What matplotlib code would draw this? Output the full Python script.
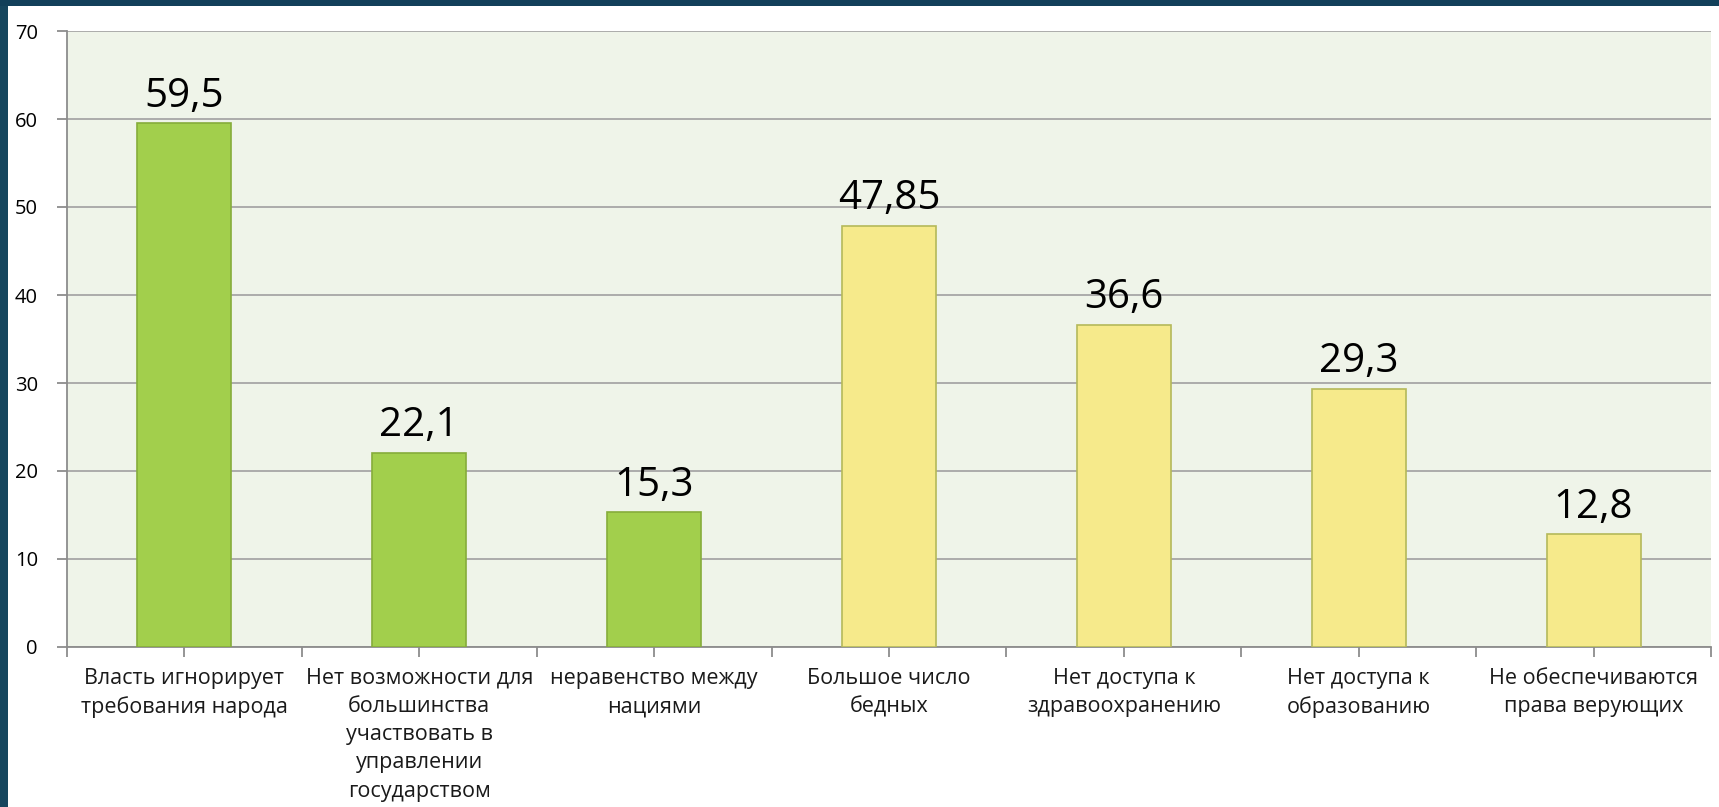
import matplotlib.pyplot as plt
import numpy as np
from matplotlib.patches import Rectangle

# данные с диаграммы
categories = [
    'Власть игнорирует\nтребования народа',
    'Нет возможности для\nбольшинства\nучаствовать в\nуправлении\nгосударством',
    'неравенство между\nнациями',
    'Большое число\nбедных',
    'Нет доступа к\nздравоохранению',
    'Нет доступа к\nобразованию',
    'Не обеспечиваются\nправа верующих',
]
values = [59.5, 22.1, 15.3, 47.85, 36.6, 29.3, 12.8]
value_labels = ['59,5', '22,1', '15,3', '47,85', '36,6', '29,3', '12,8']
groups = ['green', 'green', 'green', 'yellow', 'yellow', 'yellow', 'yellow']
y_ticks = [0, 10, 20, 30, 40, 50, 60, 70]

plt.rcParams['font.family'] = ['Open Sans', 'DejaVu Sans']

fill = {'green': '#a2cf4c', 'yellow': '#f6ea8b'}
edge = {'green': '#86ad3a', 'yellow': '#b5b95a'}

fig = plt.figure(figsize=(17.19, 8.07), dpi=100)
fig.patch.set_facecolor('white')

# рамка слайда (слева и сверху)
fig.patches.append(Rectangle((0, 0), 8 / 1719, 1, transform=fig.transFigure,
                             facecolor='#16465e', edgecolor='none', zorder=0))
fig.patches.append(Rectangle((0, 1 - 6 / 807), 1, 6 / 807, transform=fig.transFigure,
                             facecolor='#12405a', edgecolor='none', zorder=0))

ax = fig.add_axes([67 / 1719, 1 - 647 / 807, (1711 - 67) / 1719, (647 - 31) / 807])
ax.set_facecolor('#eff4e9')

x = np.arange(len(categories))
for xi, v, g, lab in zip(x, values, groups, value_labels):
    ax.bar(xi, v, 0.4, color=fill[g], edgecolor=edge[g], linewidth=1.2, zorder=3)
    ax.annotate(lab, xy=(xi, v), xytext=(0, 12), textcoords='offset points',
                ha='center', va='baseline', fontsize=29, color='black')

ax.set_xlim(-0.5, len(categories) - 0.5)
ax.set_ylim(0, 70)
ax.set_yticks(y_ticks)
ax.set_yticklabels([str(t) for t in y_ticks], fontsize=14.5)
ax.grid(axis='y', color='#a6a6a6', linewidth=1.3, zorder=1)

ax.set_xticks(x)
ax.set_xticklabels(categories, fontsize=15.5, linespacing=1.45, color='#1a1a1a')
ax.set_xticks(np.arange(-0.5, len(categories), 1), minor=True)
ax.tick_params(axis='x', which='both', length=7, color='#8c8c8c', width=1.3, pad=8)
ax.tick_params(axis='y', length=7, color='#8c8c8c', width=1.3, pad=14)

for side in ['top', 'right']:
    ax.spines[side].set_visible(False)
for side in ['left', 'bottom']:
    ax.spines[side].set_color('#8c8c8c')
    ax.spines[side].set_linewidth(1.3)

plt.savefig('out.png', dpi=100)
